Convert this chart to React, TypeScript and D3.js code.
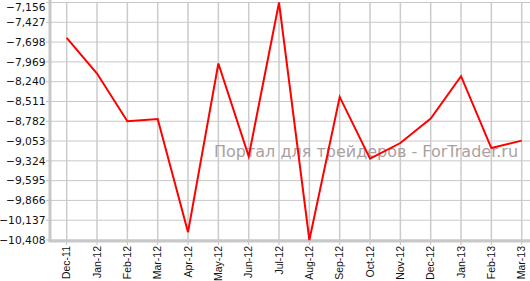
import React from "react";
import * as d3 from "d3";

const categories = ["Dec-11","Jan-12","Feb-12","Mar-12","Apr-12","May-12","Jun-12","Jul-12","Aug-12","Sep-12","Oct-12","Nov-12","Dec-12","Jan-13","Feb-13","Mar-13"];
const values = [-7640,-8128,-8783,-8751,-10301,-7991,-9263,-7156,-10408,-8449,-9294,-9080,-8746,-8165,-9149,-9047];
const yTicks = [-7156,-7427,-7698,-7969,-8240,-8511,-8782,-9053,-9324,-9595,-9866,-10137,-10408];
const watermark = "Портал для трейдеров - ForTrader.ru";

const W = 530, H = 281;
const left = 50, right = 530, top = 2.5, bottom = 240;

export default function App() {
  const x = d3.scaleLinear().domain([0, categories.length - 1]).range([66.7, 521.7]);
  const y = d3.scaleLinear().domain([-10408, -7156]).range([bottom, top]);
  const fmt = d3.format(",");
  const line = d3.line<number>().x((_, i) => x(i)).y(d => y(d));
  return (
    <svg width={W} height={H} style={{ position: "absolute", left: 0, top: 0 }}>
      <rect width={W} height={H} fill="#fff" />
      {yTicks.map(t => (
        <line key={"h" + t} x1={left} x2={right} y1={y(t)} y2={y(t)} stroke="#c8c8c8" strokeWidth={1} />
      ))}
      {categories.map((c, i) => (
        <line key={"v" + c} x1={x(i)} x2={x(i)} y1={top} y2={bottom} stroke="#cbcbcb" strokeWidth={1.5} />
      ))}
      <line x1={left} x2={left} y1={0} y2={bottom + 1.5} stroke="#c8c8c8" strokeWidth={3} />
      <line x1={left - 1.5} x2={right} y1={bottom + 1} y2={bottom + 1} stroke="#c8c8c8" strokeWidth={3} />
      {yTicks.map(t => (
        <g key={"yt" + t}>
          <line x1={left - 4} x2={left} y1={y(t)} y2={y(t)} stroke="#c0c0c0" strokeWidth={1} />
          <text x={45.5} y={Math.max(y(t), 7)} dy="0.35em" textAnchor="end" fontFamily="DejaVu Sans, Verdana, sans-serif" fontSize={10.7} fill="#111">{fmt(t)}</text>
        </g>
      ))}
      {categories.map((c, i) => (
        <g key={"xt" + c}>
          <line x1={x(i)} x2={x(i)} y1={bottom + 2} y2={bottom + 5} stroke="#c0c0c0" strokeWidth={1} />
          <text transform={`translate(${x(i)},${bottom + 6}) rotate(-90)`} dy="0.35em" textAnchor="end" fontFamily="Liberation Sans, Arial, sans-serif" fontSize={10.5} fill="#111">{c}</text>
        </g>
      ))}
      <text x={214} y={157} fontFamily="DejaVu Sans, sans-serif" fontSize={16} fill="#aaa1a1">{watermark}</text>
      <path d={line(values) || ""} fill="none" stroke="#ff0000" strokeWidth={2} strokeLinejoin="miter" />
    </svg>
  );
}
